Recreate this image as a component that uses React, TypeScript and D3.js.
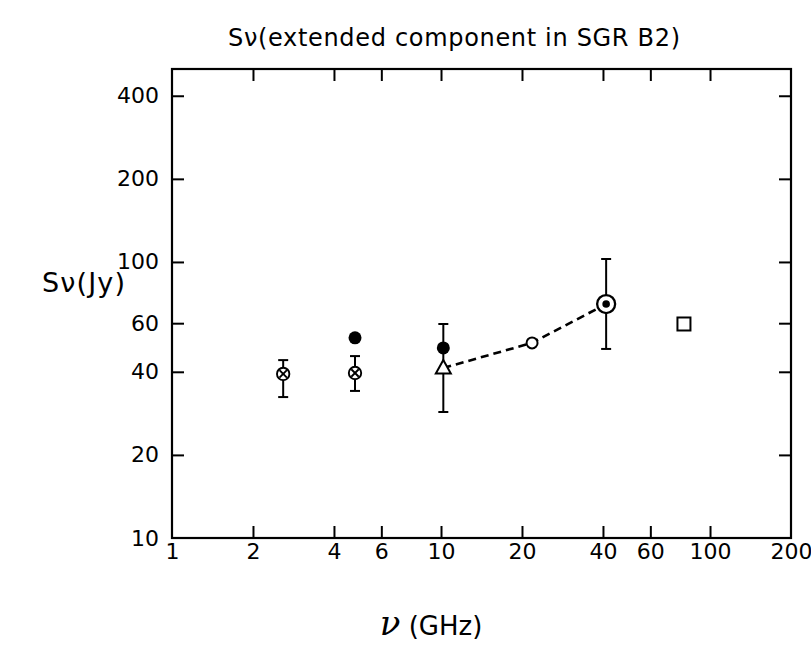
import React, { useEffect, useRef } from "react";
import * as d3 from "d3";

const xTickVals = [2, 4, 6, 10, 20, 40, 60, 100];
const xLabelVals = [1, 2, 4, 6, 10, 20, 40, 60, 100, 200];
const yTickVals = [20, 40, 60, 100, 200, 400];
const yLabelVals = [10, 20, 40, 60, 100, 200, 400];

// crossed circles with error bars
const crossFreq = [2.59, 4.79];
const crossFlux = [39.3, 39.6];
const crossLo = [32.4, 34.1];
const crossHi = [44.1, 45.6];

// filled circles
const filledFreq = [4.79, 10.2];
const filledFlux = [53.1, 48.8];

// triangle with error bar
const triFreq = [10.2];
const triFlux = [41.3];
const triLo = [28.6];
const triHi = [59.6];

// open circle
const openFreq = [21.8];
const openFlux = [50.9];

// circled dot with error bar
const dotFreq = [41.1];
const dotFlux = [70.4];
const dotLo = [48.4];
const dotHi = [102.5];

// open square
const sqFreq = [80];
const sqFlux = [59.6];

// dashed line through triangle, open circle, circled dot
const lineFreq = [10.2, 21.8, 41.1];
const lineFlux = [41.3, 50.9, 70.4];

const W = 811, H = 660;
const L = 172, R = 791, T = 69, B = 538;
const FONT = "DejaVu Sans, sans-serif";

export default function App() {
  const ref = useRef<SVGSVGElement>(null);
  const x = d3.scaleLog().domain([1, 200]).range([L, R]);
  const y = d3.scaleLog().domain([10, 500]).range([B, T]);

  useEffect(() => {
    const svg = d3.select(ref.current);
    svg.selectAll(".ax").remove();
    const fmt = (d: any) => String(d);
    const style = (g: any) => {
      g.select(".domain").remove();
      g.selectAll("line").attr("stroke", "#000").attr("stroke-width", 2);
      g.selectAll("text").attr("font-family", FONT).attr("font-size", 22).attr("fill", "#000");
      g.attr("font-family", null).attr("font-size", null);
    };
    svg.append("g").attr("class", "ax").attr("transform", `translate(0,${B})`)
      .call(d3.axisTop(x).tickValues(xTickVals).tickSizeInner(12).tickSizeOuter(0).tickFormat(() => ""))
      .call(style);
    svg.append("g").attr("class", "ax").attr("transform", `translate(0,${B})`)
      .call(d3.axisBottom(x).tickValues(xLabelVals).tickSizeInner(0).tickSizeOuter(0).tickPadding(5).tickFormat(fmt))
      .call(style);
    svg.append("g").attr("class", "ax").attr("transform", `translate(0,${T})`)
      .call(d3.axisBottom(x).tickValues(xTickVals).tickSizeInner(12).tickSizeOuter(0).tickFormat(() => ""))
      .call(style);
    svg.append("g").attr("class", "ax").attr("transform", `translate(${L},0)`)
      .call(d3.axisRight(y).tickValues(yTickVals).tickSizeInner(12).tickSizeOuter(0).tickFormat(() => ""))
      .call(style);
    svg.append("g").attr("class", "ax").attr("transform", `translate(${L},0)`)
      .call(d3.axisLeft(y).tickValues(yLabelVals).tickSizeInner(0).tickSizeOuter(0).tickPadding(13).tickFormat(fmt))
      .call(style);
    svg.append("g").attr("class", "ax").attr("transform", `translate(${R},0)`)
      .call(d3.axisLeft(y).tickValues(yTickVals).tickSizeInner(12).tickSizeOuter(0).tickFormat(() => ""))
      .call(style);
  }, []);

  const line = d3.line<number>().x((d, i) => x(lineFreq[i])).y((d) => y(d));
  const errBar = (f: number, lo: number, hi: number, key: string) => (
    <g key={key} stroke="#000" strokeWidth={2}>
      <line x1={x(f)} x2={x(f)} y1={y(lo)} y2={y(hi)} />
      <line x1={x(f) - 5} x2={x(f) + 5} y1={y(lo)} y2={y(lo)} />
      <line x1={x(f) - 5} x2={x(f) + 5} y1={y(hi)} y2={y(hi)} />
    </g>
  );

  return (
    <svg ref={ref} width={W} height={H} style={{ position: "absolute", left: 0, top: 0, background: "#fff" }}>
      <rect x={0} y={0} width={W} height={H} fill="#fff" />
      <text x={228} y={46} textLength={452} lengthAdjust="spacing" fontFamily={FONT} fontSize={24} fill="#000">
        Sν(extended component in SGR B2)
      </text>
      <text x={42} y={292} textLength={83} lengthAdjust="spacing" fontFamily={FONT} fontSize={27} fill="#000">
        Sν(Jy)
      </text>
      <text x={431} y={635} textAnchor="middle" fontFamily={FONT} fontSize={26} fill="#000">
        <tspan fontStyle="italic" fontFamily="DejaVu Serif, serif" fontSize={34}>ν</tspan> (GHz)
      </text>
      <rect x={L} y={T} width={R - L} height={B - T} fill="none" stroke="#000" strokeWidth={2.2} />

      <path d={line(lineFlux) || ""} fill="none" stroke="#000" strokeWidth={2.6} strokeDasharray="8,5" />

      {crossFreq.map((f, i) => errBar(f, crossLo[i], crossHi[i], "ce" + i))}
      {triFreq.map((f, i) => errBar(f, triLo[i], triHi[i], "te" + i))}
      {dotFreq.map((f, i) => errBar(f, dotLo[i], dotHi[i], "de" + i))}

      {crossFreq.map((f, i) => {
        const cx = x(f), cy = y(crossFlux[i]), r = 6.2, k = r * 0.6;
        return (
          <g key={"c" + i} stroke="#000" strokeWidth={1.9}>
            <circle cx={cx} cy={cy} r={r} fill="#fff" />
            <line x1={cx - k} y1={cy - k} x2={cx + k} y2={cy + k} />
            <line x1={cx - k} y1={cy + k} x2={cx + k} y2={cy - k} />
          </g>
        );
      })}
      {filledFreq.map((f, i) => (
        <circle key={"f" + i} cx={x(f)} cy={y(filledFlux[i])} r={6.5} fill="#000" />
      ))}
      {triFreq.map((f, i) => {
        const cx = x(f), cy = y(triFlux[i]);
        const pts = [[cx, cy - 8], [cx - 7.5, cy + 5.5], [cx + 7.5, cy + 5.5]];
        return <polygon key={"t" + i} points={pts.map((p) => p.join(",")).join(" ")} fill="#fff" stroke="#000" strokeWidth={2} />;
      })}
      {openFreq.map((f, i) => (
        <circle key={"o" + i} cx={x(f)} cy={y(openFlux[i])} r={5.5} fill="#fff" stroke="#000" strokeWidth={2} />
      ))}
      {dotFreq.map((f, i) => (
        <g key={"d" + i}>
          <circle cx={x(f)} cy={y(dotFlux[i])} r={9} fill="#fff" stroke="#000" strokeWidth={2.3} />
          <circle cx={x(f)} cy={y(dotFlux[i])} r={3.8} fill="#000" />
        </g>
      ))}
      {sqFreq.map((f, i) => (
        <rect key={"s" + i} x={x(f) - 6.5} y={y(sqFlux[i]) - 6.5} width={13} height={13} fill="#fff" stroke="#000" strokeWidth={2} />
      ))}
    </svg>
  );
}
